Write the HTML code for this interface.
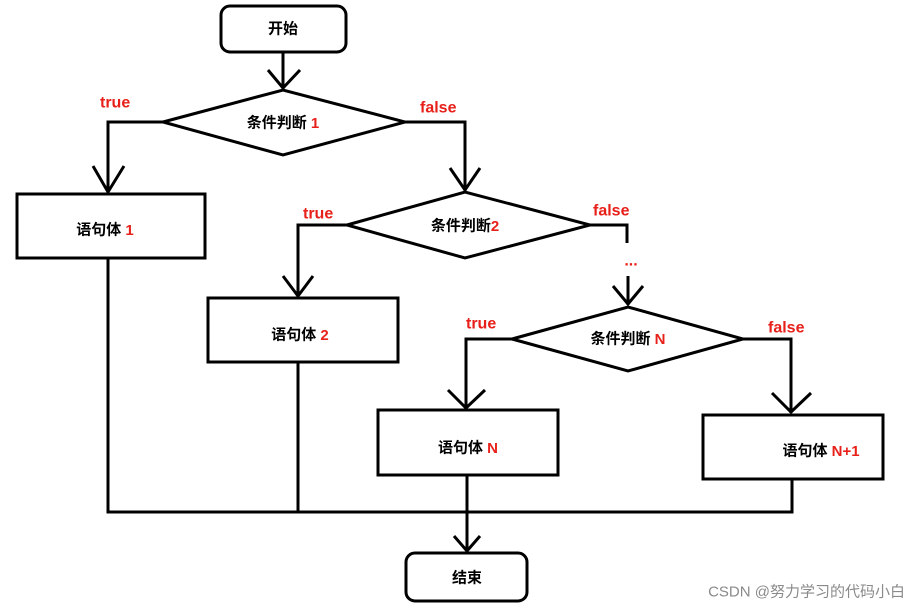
<!DOCTYPE html>
<html><head><meta charset="utf-8"><style>
body{margin:0;background:#fff;width:916px;height:610px;overflow:hidden}
svg text{font-family:"Liberation Sans","Noto Sans CJK SC",sans-serif;font-weight:bold}
</style></head><body>
<svg width="916" height="610" viewBox="0 0 916 610" xmlns="http://www.w3.org/2000/svg">
<g fill="none" stroke="#000" stroke-width="3" stroke-linejoin="miter">
<rect x="221" y="6" width="125" height="46" rx="9"/>
<line x1="283" y1="52" x2="283" y2="89"/>
<polyline points="268,70 283,88 300,70"/>
<polygon points="163,122 283,90 405,122 283,155"/>
<polyline points="163,122 108,122 108,193"/>
<polyline points="93,166 108,192 124,166"/>
<rect x="17" y="194" width="188" height="64"/>
<polyline points="405,122 465,122 465,191"/>
<polyline points="450,168 465,190 480,168"/>
<polygon points="347,225 465,192 590,225 465,258"/>
<polyline points="347,225 298,225 298,297"/>
<polyline points="283,276 298,296 313,276"/>
<rect x="208" y="298" width="190" height="64"/>
<polyline points="590,225 627,225 627,243"/>
<line x1="628" y1="276" x2="628" y2="305"/>
<polyline points="613,286 628,304 643,286"/>
<polygon points="512,339 628,307 743,339 628,371"/>
<polyline points="512,339 466,339 466,409"/>
<polyline points="448,390 466,408 485,390"/>
<rect x="378" y="410" width="180" height="65"/>
<polyline points="743,339 791,339 791,413"/>
<polyline points="772,393 791,412 811,393"/>
<rect x="703" y="415" width="180" height="64"/>
<polyline points="108,258 108,512 792,512 792,479"/>
<line x1="298" y1="362" x2="298" y2="512"/>
<line x1="467" y1="475" x2="467" y2="552"/>
<polyline points="454,536 467,551 480,536"/>
<rect x="406" y="553" width="121" height="48" rx="9"/>
</g>
<g font-size="15" fill="#000" text-anchor="middle" dominant-baseline="central">
<text x="283" y="29">开始</text>
<text x="283" y="123">条件判断 <tspan fill="#e8201a">1</tspan></text>
<text x="105" y="230">语句体 <tspan fill="#e8201a">1</tspan></text>
<text x="465" y="226">条件判断<tspan fill="#e8201a">2</tspan></text>
<text x="300" y="335">语句体 <tspan fill="#e8201a">2</tspan></text>
<text x="628" y="339">条件判断 <tspan fill="#e8201a">N</tspan></text>
<text x="468" y="448">语句体 <tspan fill="#e8201a">N</tspan></text>
<text x="821" y="451">语句体 <tspan fill="#e8201a">N+1</tspan></text>
<text x="467" y="578">结束</text>
</g>
<g font-size="16" fill="#e8201a" dominant-baseline="central">
<text x="100" y="103">true</text>
<text x="420" y="108">false</text>
<text x="303" y="214">true</text>
<text x="593" y="211">false</text>
<text x="631" y="261" text-anchor="middle">...</text>
<text x="466" y="324">true</text>
<text x="768" y="328">false</text>
</g>
<text x="905" y="592" font-size="15" fill="#8a8a8a" text-anchor="end" dominant-baseline="central" style="font-weight:normal">CSDN @努力学习的代码小白</text>
</svg>
</body></html>
